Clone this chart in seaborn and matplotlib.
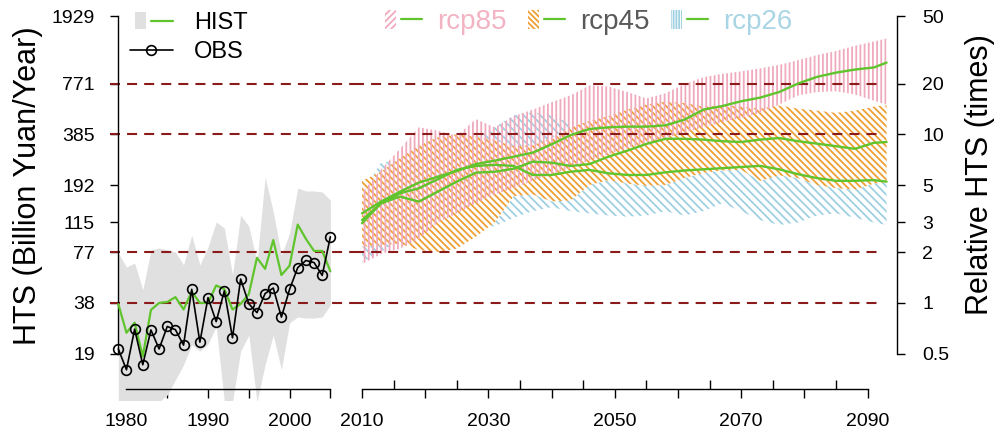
import matplotlib
matplotlib.use("Agg")
import numpy as np
import matplotlib.pyplot as plt
import matplotlib.patches as mpatches
from matplotlib.lines import Line2D
from matplotlib.legend_handler import HandlerTuple, HandlerPatch
from matplotlib.ticker import FixedLocator, NullLocator
import seaborn as sns

# white style first, then fonts / colours (set_style resets some rcParams)
sns.set_style("white")
plt.rcParams.update({
    "font.family": ["Liberation Sans", "DejaVu Sans"],
    "hatch.linewidth": 1.3,
    "axes.edgecolor": "black",
    "xtick.color": "black",
    "ytick.color": "black",
    "text.color": "black",
})

# 1 time (relative HTS) = 38.58 billion yuan / year
BASE = 38.58

# ---- historical panel (billion yuan / year) ----
hist_years = list(range(1979, 2006))
obs_hts = [20.6, 15.5, 27.0, 16.6, 26.7, 20.6, 28.0, 26.8, 21.7, 46.5, 22.6, 41.5,
           29.9, 45.5, 24.0, 53.5, 38.2, 33.8, 43.9, 47.3, 31.8, 46.5, 62.5, 68.9,
           67.0, 56.2, 95.2]
hist_hts = [38.0, 25.7, 29.5, 18.6, 35.1, 38.6, 39.1, 41.8, 35.3, 45.0, 38.6, 38.6,
            49.0, 46.6, 35.3, 38.1, 43.5, 71.5, 61.5, 91.1, 56.5, 64.2, 112.5, 92.6,
            78.5, 78.5, 59.5]
hist_hi = [76.4, 63.0, 66.6, 46.1, 79.6, 81.7, 79.6, 77.4, 64.8, 97.6, 64.8, 82.9,
           116.6, 107.4, 56.6, 128.0, 110.0, 67.5, 215.0, 134.0, 74.0, 100.0, 185.0,
           178.0, 178.0, 175.5, 157.0]
hist_lo = [10.0, 10.0, 10.0, 10.0, 10.0, 10.0, 11.0, 13.5, 16.6, 21.8, 20.0, 22.0,
           28.0, 10.0, 10.0, 20.0, 24.9, 10.0, 16.6, 24.9, 15.5, 29.4, 31.9, 31.4,
           31.4, 31.9, 37.5]

# ---- projection panel (relative HTS, times) ----
proj_years = [2010, 2013, 2016, 2019, 2022, 2025, 2028, 2031, 2034, 2037, 2040,
              2043, 2046, 2049, 2052, 2055, 2058, 2061, 2064, 2067, 2070, 2073,
              2076, 2079, 2082, 2085, 2088, 2091, 2093]
rcp85_mid = [3.40, 3.99, 4.57, 5.17, 5.61, 6.06, 6.66, 6.98, 7.37, 7.78, 8.72, 9.89,
             10.75, 11.0, 11.1, 11.1, 11.3, 12.2, 14.0, 14.7, 15.7, 16.5, 17.8, 20.0,
             21.9, 23.2, 24.2, 24.9, 26.6]
rcp85_lo = [1.7, 1.95, 2.1, 2.4, 3.0, 3.4, 3.9, 4.4, 4.8, 5.3, 5.8, 6.3, 7.0, 7.6,
            8.3, 8.9, 9.5, 10.2, 11.0, 11.8, 12.5, 13.4, 15.0, 17.0, 17.8, 18.0,
            17.2, 15.8, 15.0]
rcp85_hi = [4.5, 6.2, 8.2, 11.0, 10.5, 9.8, 12.3, 11.0, 12.8, 14.0, 15.5, 17.0,
            19.5, 19.2, 17.8, 16.3, 17.5, 19.8, 21.8, 22.8, 23.6, 24.6, 25.8, 27.5,
            29.5, 31.2, 33.5, 35.5, 37.0]
rcp45_mid = [3.10, 3.90, 4.27, 3.99, 4.57, 5.24, 5.92, 6.00, 6.25, 6.88, 6.79, 6.49,
             6.66, 7.37, 8.00, 8.77, 9.40, 9.40, 9.30, 9.10, 9.00, 9.30, 9.50, 9.10,
             8.80, 8.50, 8.20, 8.90, 9.00]
rcp45_lo = [2.16, 2.2, 2.25, 2.06, 2.0, 2.1, 2.47, 3.0, 4.3, 4.4, 4.0, 4.05, 5.0,
            5.35, 5.1, 4.95, 5.0, 5.5, 5.9, 6.1, 6.15, 5.3, 5.7, 5.5, 5.0, 4.8, 4.7,
            5.1, 5.2]
rcp45_hi = [5.3, 6.0, 7.2, 8.6, 9.6, 10.0, 9.7, 9.2, 8.5, 8.6, 9.5, 11.0, 12.0,
            12.8, 14.0, 15.0, 15.6, 15.3, 14.6, 14.8, 14.6, 14.2, 14.8, 14.2, 13.8,
            13.4, 13.8, 14.6, 14.8]
rcp26_mid = [2.97, 3.90, 4.47, 4.79, 5.41, 6.15, 6.49, 6.59, 6.49, 5.74, 5.74, 6.00,
             6.15, 5.87, 5.74, 5.74, 5.95, 6.10, 6.20, 6.30, 6.40, 6.50, 6.20, 5.80,
             5.50, 5.30, 5.30, 5.35, 5.24]
rcp26_lo = [1.75, 2.0, 2.4, 2.7, 2.8, 2.9, 2.8, 2.85, 3.2, 3.5, 3.7, 3.5, 3.4, 3.3,
            3.25, 3.3, 3.5, 3.3, 3.5, 3.9, 3.5, 3.1, 2.9, 3.0, 3.3, 3.4, 3.2, 3.0, 2.9]
rcp26_hi = [4.5, 6.8, 7.0, 7.5, 8.0, 8.5, 9.5, 11.0, 13.0, 13.5, 13.0, 11.5, 10.0,
            9.5, 9.0, 8.8, 8.5, 8.5, 8.3, 8.2, 8.0, 8.0, 7.8, 7.6, 7.5, 7.4, 7.2,
            7.2, 7.2]

# ---- axes text ----
rel_ticks = [0.5, 1, 2, 3, 5, 10, 20, 50]
hts_labels = ["19", "38", "77", "115", "192", "385", "771", "1929"]
rel_labels = ["0.5", "1", "2", "3", "5", "10", "20", "50"]
ref_levels = [1, 2, 10, 20]
left_xticks = [1980, 1985, 1990, 1995, 2000, 2005]
left_xlabels = ["1980", "", "1990", "", "2000", ""]
right_xticks = [2010, 2020, 2030, 2040, 2050, 2060, 2070, 2080, 2090]
right_xlabels = ["2010", "", "2030", "", "2050", "", "2070", "", "2090"]
right_minor = [2015, 2025, 2035, 2045, 2055, 2065, 2075, 2085]

GREEN = "#60c42d"
GRAY = "#e0e0e0"
DASH = "#8b1a1a"
PINK = "#f0aabd"
ORANGE = "#ef9f35"
BLUE = "#9fd0e2"
DASH_STYLE = (0, (4.8, 3.4))

W, H = 996, 441
fig = plt.figure(figsize=(W / 100, H / 100), dpi=100)


def px_rect(left, bottom, right, top):
    return [left / W, 1 - bottom / H, (right - left) / W, (bottom - top) / H]


ax1 = fig.add_axes(px_rect(110, 400, 354, 5))
ax2 = fig.add_axes(px_rect(354, 400, 897, 5))
for ax in (ax1, ax2):
    ax.set_yscale("log")
    ax.set_ylim(0.266, 58.4)

ax1.set_xlim(1977.98, 2007.9)
ax2.set_xlim(2008.73, 2094.65)

# ---- left panel ----
ax1.fill_between(hist_years, np.array(hist_lo) / BASE, np.array(hist_hi) / BASE,
                 color=GRAY, linewidth=0, zorder=1)
for lv in ref_levels:
    ax1.axhline(lv, color=DASH, linewidth=1.5, linestyle=DASH_STYLE, zorder=2)
sns.lineplot(x=hist_years, y=np.array(hist_hts) / BASE, ax=ax1, color=GREEN,
             linewidth=1.6, zorder=3)
sns.lineplot(x=hist_years, y=np.array(obs_hts) / BASE, ax=ax1, color="black",
             linewidth=1.2, marker="o", markersize=7, markerfacecolor="none",
             markeredgecolor="black", markeredgewidth=1.2, zorder=4)

# ---- right panel: blue, then orange (opaque), then pink on top ----
ax2.fill_between(proj_years, rcp26_lo, rcp26_hi, facecolor="none", edgecolor=BLUE,
                 hatch="\\" * 4, linewidth=0, zorder=1.0)
ax2.fill_between(proj_years, rcp45_lo, rcp45_hi, facecolor="white", edgecolor=ORANGE,
                 hatch="\\" * 5, linewidth=0, zorder=1.1)
ax2.fill_between(proj_years, rcp85_lo, rcp85_hi, facecolor="none", edgecolor=PINK,
                 hatch="|" * 4, linewidth=0, zorder=1.2)
ax2.hlines(ref_levels, 2008.73, 2091.5, colors=DASH, linewidth=1.5,
           linestyles=DASH_STYLE, zorder=2)
for mid in (rcp85_mid, rcp45_mid, rcp26_mid):
    sns.lineplot(x=proj_years, y=mid, ax=ax2, color=GREEN, linewidth=1.7, zorder=3)

# ---- spines and ticks ----
ax1.spines[["top", "right"]].set_visible(False)
ax1.spines["left"].set_position(("data", 1979))
ax1.spines["left"].set_bounds(0.5, 50)
ax1.spines["bottom"].set_position(("axes", 11 / 395))
ax1.spines["bottom"].set_bounds(1980, 2005)
ax1.set_xticks(left_xticks)
ax1.set_xticklabels(left_xlabels)
ax1.yaxis.set_major_locator(FixedLocator(rel_ticks))
ax1.yaxis.set_minor_locator(NullLocator())
ax1.set_yticklabels(hts_labels)
ax1.tick_params(axis="x", bottom=True, direction="out", length=6.5, width=1.0,
                pad=11, labelsize=14)
ax1.tick_params(axis="y", left=True, direction="out", length=6, width=1.0,
                pad=11, labelsize=14)

ax2.spines[["top", "left"]].set_visible(False)
ax2.spines["right"].set_bounds(0.5, 50)
ax2.spines["bottom"].set_position(("axes", 11 / 395))
ax2.spines["bottom"].set_bounds(2010, 2090)
ax2.set_xticks(right_xticks)
ax2.set_xticklabels(right_xlabels)
ax2.set_xticks(right_minor, minor=True)
ax2.yaxis.tick_right()
ax2.yaxis.set_major_locator(FixedLocator(rel_ticks))
ax2.yaxis.set_minor_locator(NullLocator())
ax2.set_yticklabels(rel_labels)
ax2.tick_params(axis="x", which="major", bottom=True, direction="out", length=6.5,
                width=1.0, pad=11, labelsize=14)
ax2.tick_params(axis="x", which="minor", bottom=True, direction="in", length=6.5,
                width=1.0)
ax2.tick_params(axis="y", which="major", right=True, left=False, direction="out",
                length=6, width=1.0, pad=12, labelsize=14)

for ax in (ax1, ax2):
    for sp in ax.spines.values():
        sp.set_linewidth(1.0)
        sp.set_color("black")
    ax.set_xlabel("")
    ax.set_ylabel("")

fig.text(28 / W, 1 - 186 / H, "HTS (Billion Yuan/Year)", rotation=90,
         ha="center", va="center", fontsize=22)
fig.text(980 / W, 1 - 175 / H, "Relative HTS (times)", rotation=90,
         ha="center", va="center", fontsize=22)


# ---- legends ----
def narrow_patch(legend, orig_handle, xdescent, ydescent, width, height, fontsize):
    return mpatches.Rectangle((-xdescent + 0.25 * width, -ydescent), 0.5 * width, height)


handler_map = {tuple: HandlerTuple(ndivide=None),
               mpatches.Patch: HandlerPatch(patch_func=narrow_patch)}

h_hist = (mpatches.Patch(facecolor=GRAY, edgecolor="none", linewidth=0),
          Line2D([], [], color=GREEN, linewidth=1.6))
h_obs = Line2D([], [], color="black", linewidth=1.2, marker="o", markersize=7,
               markerfacecolor="none", markeredgecolor="black", markeredgewidth=1.2)
fig.legend(handles=[h_hist, h_obs], labels=["HIST", "OBS"], loc="upper left",
           bbox_to_anchor=(130 / W, 1 - 12 / H), frameon=False, fontsize=17,
           handlelength=1.82, handletextpad=0.9, labelspacing=0.3, borderpad=0,
           borderaxespad=0, handler_map=handler_map)

scen_names = ["rcp85", "rcp45", "rcp26"]
scen_colors = [PINK, ORANGE, BLUE]
scen_text = ["#f2b3c3", "#595959", "#a9d5e4"]
scen_hatch = ["/" * 5, "\\" * 6, "|" * 6]
scen_handles = [(mpatches.Patch(facecolor="none", edgecolor=c, hatch=h, linewidth=0),
                 Line2D([], [], color=GREEN, linewidth=1.6))
                for c, h in zip(scen_colors, scen_hatch)]
leg2 = fig.legend(handles=scen_handles, labels=scen_names, loc="upper left",
                  bbox_to_anchor=(380 / W, 1 - 9 / H), ncol=3, frameon=False,
                  fontsize=20, handlelength=1.5, handletextpad=0.55,
                  columnspacing=0.6, borderpad=0, borderaxespad=0,
                  handler_map=handler_map)
for txt, col in zip(leg2.get_texts(), scen_text):
    txt.set_color(col)

fig.savefig("out.png", dpi=100)
